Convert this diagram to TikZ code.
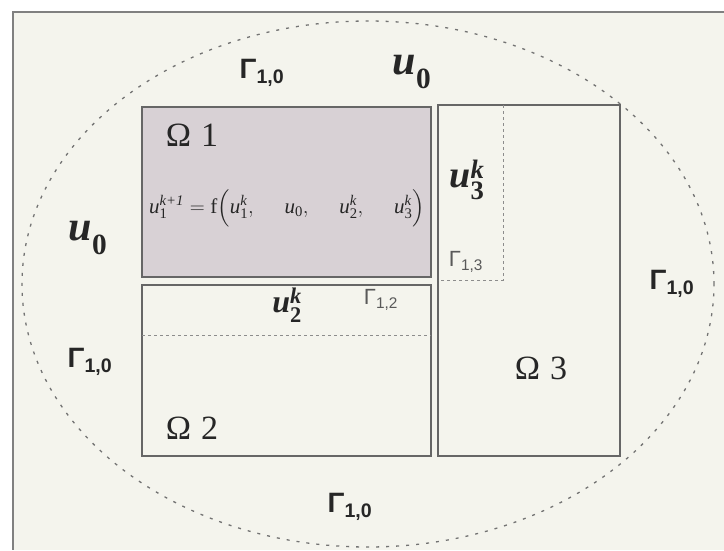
\documentclass[tikz,border=0pt]{standalone}
\usepackage{fontspec}
\usepackage{amsmath}
\setmainfont{Liberation Serif}
\newfontfamily\gsans{Liberation Sans}
\newcommand\fs[1]{\fontsize{#1}{#1}\selectfont}
\newcommand\uvar[2]{$\text{\bfseries\itshape u}_{\text{\bfseries #1}}^{\text{\bfseries\itshape #2}}$}
\newcommand\gam[1]{\gsans$\text{\gsans\bfseries Γ}_{\text{\gsans\bfseries #1}}$}
\newcommand\gaml[1]{\gsans$\text{\gsans Γ}_{\text{\gsans #1}}$}
\newcommand\om[1]{Ω\hspace{0.3em}#1}
\newcommand\eqsp{\hspace{1.3em}}
\begin{document}
\begin{tikzpicture}[x=1pt,y=-1pt,
  region/.style={draw=black!60,line width=1.6pt},
  inner/.style={draw=black!45,line width=1pt,dash pattern=on 3pt off 3pt},
  lbl/.style={inner sep=0pt,anchor=center,text=black!85}]
\useasboundingbox (0,0) rectangle (724,550);
\fill[white] (0,0) rectangle (724,550);
\fill[black!5!white!97!yellow] (13,12) rectangle (724,550);
\draw[black!50,line width=1.6pt] (724,12) -- (13,12) -- (13,550);
% outer boundary
\draw[black!55,line width=1.3pt,dash pattern=on 3pt off 7pt] (368,284) ellipse [x radius=346pt,y radius=263pt];
% subdomains
\filldraw[region,fill={rgb,255:red,216;green,209;blue,213}] (142,107) rectangle (431,277);
\draw[region] (142,285) rectangle (431,456);
\draw[region] (438,105) rectangle (620,456);
% interfaces
\draw[inner] (503,105) -- (503,280) -- (438,280);
\draw[inner] (142,335) -- (431,335);
% labels
\node[lbl] (g10t) at (262,73) {\fs{28}\gam{1,0}};
\node[lbl] (u0t) at (412,72) {\fs{42}\uvar{0}{}};
\node[lbl] (u0l) at (88,238) {\fs{42}\uvar{0}{}};
\node[lbl] (g10l) at (90,362) {\fs{28}\gam{1,0}};
\node[lbl] (g10r) at (672,284) {\fs{28}\gam{1,0}};
\node[lbl] (g10b) at (350,507) {\fs{28}\gam{1,0}};
\node[lbl] (o1) at (192,135) {\fs{34}\om{1}};
\node[lbl] (eq) at (287,208) {\fs{21}$\text{\itshape u}_{\text{1}}^{\text{\itshape k+1}} = \text{f}\Big(\text{\itshape u}_{\text{1}}^{\text{\itshape k}},\eqsp \text{\itshape u}_{\text{0}},\eqsp \text{\itshape u}_{\text{2}}^{\text{\itshape k}},\eqsp \text{\itshape u}_{\text{3}}^{\text{\itshape k}}\Big)$};
\node[lbl] (u3) at (467,180) {\fs{38}\uvar{3}{k}};
\node[lbl,text=black!65] (g13) at (466,262) {\fs{22}\gaml{1,3}};
\node[lbl] (u2) at (287,305) {\fs{32}\uvar{2}{k}};
\node[lbl,text=black!65] (g12) at (381,300) {\fs{22}\gaml{1,2}};
\node[lbl] (o2) at (192,428) {\fs{34}\om{2}};
\node[lbl] (o3) at (541,368) {\fs{34}\om{3}};
\end{tikzpicture}
\end{document}
